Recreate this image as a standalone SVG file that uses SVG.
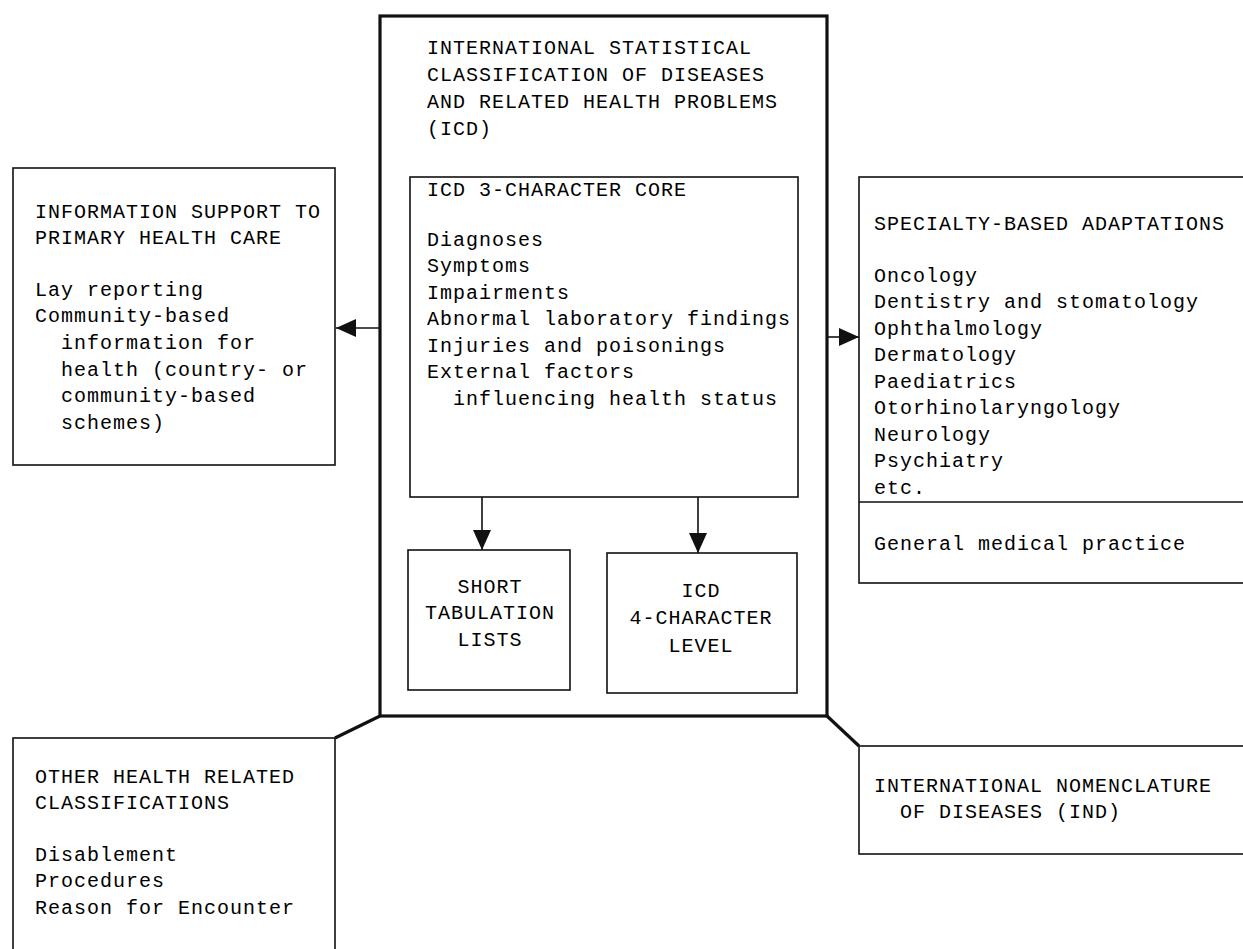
<svg xmlns="http://www.w3.org/2000/svg" width="1243" height="949" viewBox="0 0 1243 949">
<style>
  text { font-family: "Liberation Mono", "DejaVu Sans Mono", monospace; font-size: 20px; letter-spacing: 1px; fill: #000; }
  .box { fill: none; stroke: #111; stroke-width: 1.6; }
  .main { fill: none; stroke: #111; stroke-width: 3.2; }
  .conn { fill: none; stroke: #111; stroke-width: 1.6; }
  .c { text-anchor: middle; }
</style>
<defs>
  <marker id="ah" markerUnits="userSpaceOnUse" markerWidth="24" markerHeight="20" refX="20" refY="9" orient="auto">
    <path d="M0,0 L20,9 L0,18 z" fill="#111"/>
  </marker>
</defs>
<rect width="1243" height="949" fill="#fff"/>

<g id="icd">
  <rect class="main" x="380" y="16" width="447" height="700"/>
  <text x="427" y="54">INTERNATIONAL STATISTICAL</text>
  <text x="427" y="81">CLASSIFICATION OF DISEASES</text>
  <text x="427" y="108">AND RELATED HEALTH PROBLEMS</text>
  <text x="427" y="135">(ICD)</text>
</g>

<g id="core">
  <rect class="box" x="410" y="177" width="388" height="320"/>
  <text x="427" y="196">ICD 3-CHARACTER CORE</text>
  <text x="427" y="246">Diagnoses</text>
  <text x="427" y="272">Symptoms</text>
  <text x="427" y="299">Impairments</text>
  <text x="427" y="325">Abnormal laboratory findings</text>
  <text x="427" y="352">Injuries and poisonings</text>
  <text x="427" y="378">External factors</text>
  <text x="453" y="405">influencing health status</text>
</g>

<g id="short">
  <rect class="box" x="408" y="550" width="162" height="140"/>
  <text class="c" x="490" y="593">SHORT</text>
  <text class="c" x="490" y="619">TABULATION</text>
  <text class="c" x="490" y="646">LISTS</text>
</g>

<g id="four">
  <rect class="box" x="607" y="553" width="190" height="140"/>
  <text class="c" x="701" y="597">ICD</text>
  <text class="c" x="701" y="624">4-CHARACTER</text>
  <text class="c" x="701" y="652">LEVEL</text>
</g>

<g id="phc">
  <rect class="box" x="13" y="168" width="322" height="297"/>
  <text x="35" y="218">INFORMATION SUPPORT TO</text>
  <text x="35" y="244">PRIMARY HEALTH CARE</text>
  <text x="35" y="296">Lay reporting</text>
  <text x="35" y="322">Community-based</text>
  <text x="61" y="349">information for</text>
  <text x="61" y="376">health (country- or</text>
  <text x="61" y="402">community-based</text>
  <text x="61" y="429">schemes)</text>
</g>

<g id="specialty">
  <rect class="box" x="859" y="177" width="400" height="406"/>
  <line class="box" x1="859" y1="502" x2="1243" y2="502"/>
  <text x="874" y="230">SPECIALTY-BASED ADAPTATIONS</text>
  <text x="874" y="282">Oncology</text>
  <text x="874" y="308">Dentistry and stomatology</text>
  <text x="874" y="335">Ophthalmology</text>
  <text x="874" y="361">Dermatology</text>
  <text x="874" y="388">Paediatrics</text>
  <text x="874" y="414">Otorhinolaryngology</text>
  <text x="874" y="441">Neurology</text>
  <text x="874" y="467">Psychiatry</text>
  <text x="874" y="494">etc.</text>
  <text x="874" y="550">General medical practice</text>
</g>

<g id="other">
  <rect class="box" x="13" y="738" width="322" height="230"/>
  <text x="35" y="783">OTHER HEALTH RELATED</text>
  <text x="35" y="809">CLASSIFICATIONS</text>
  <text x="35" y="861">Disablement</text>
  <text x="35" y="887">Procedures</text>
  <text x="35" y="914">Reason for Encounter</text>
</g>

<g id="ind">
  <rect class="box" x="859" y="746" width="400" height="108"/>
  <text x="874" y="792">INTERNATIONAL NOMENCLATURE</text>
  <text x="900" y="818">OF DISEASES (IND)</text>
</g>

<g id="connectors">
  <line class="conn" x1="380" y1="328" x2="336" y2="328" marker-end="url(#ah)"/>
  <line class="conn" x1="827" y1="337" x2="859" y2="337" marker-end="url(#ah)"/>
  <line class="conn" x1="482" y1="497" x2="482" y2="550" marker-end="url(#ah)"/>
  <line class="conn" x1="698" y1="497" x2="698" y2="553" marker-end="url(#ah)"/>
  <polyline class="main" points="380,716 335,738"/>
  <polyline class="main" points="827,716 859,746"/>
</g>
</svg>
